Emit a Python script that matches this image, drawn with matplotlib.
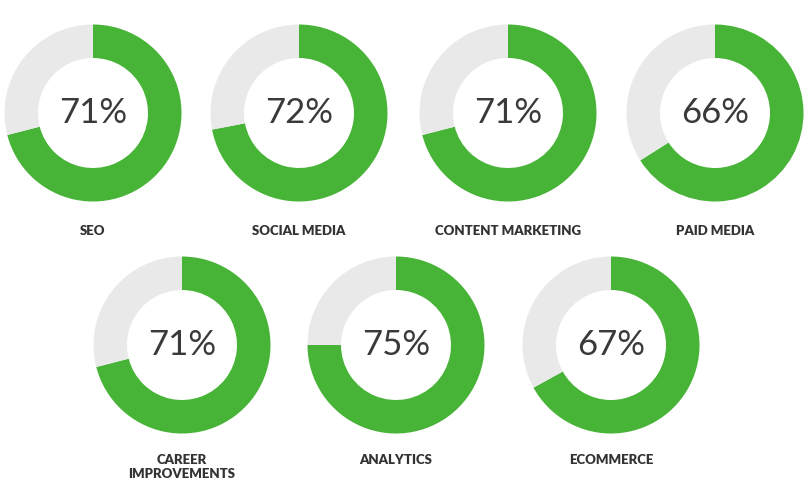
import matplotlib
matplotlib.use("Agg")
import matplotlib.pyplot as plt

# Share of respondents per skill area
labels = ["SEO", "SOCIAL MEDIA", "CONTENT MARKETING", "PAID MEDIA",
          "CAREER\nIMPROVEMENTS", "ANALYTICS", "ECOMMERCE"]
values = [71, 72, 71, 66, 71, 75, 67]

# donut centres in pixel space (x, y from top)
centers = [(93, 113), (299, 113), (508, 113), (715, 113),
           (182, 345), (396, 345), (611, 345)]
label_y = [232, 232, 232, 232, 461, 461, 461]

GREEN = "#47b337"
GREY = "#e9e9e9"
TEXT = "#333333"
H = 495
R = 88.5
WIDTH = 33.5

fig = plt.figure(figsize=(8.1, 4.95), dpi=100)
ax = fig.add_axes([0, 0, 1, 1])

for lab, val, (cx, cy), ly in zip(labels, values, centers, label_y):
    ax.pie([val, 100 - val], colors=[GREEN, GREY], startangle=90,
           counterclock=False, radius=R, center=(cx, H - cy),
           wedgeprops=dict(width=WIDTH, linewidth=0))
    ax.text(cx, H - cy, f"{val}%", ha="center", va="center",
            fontsize=25, fontweight="normal", family=["Lato", "DejaVu Sans"],
            color="#3a3a3a")
    ax.text(cx, H - (ly - 7), lab, ha="center", va="top", fontsize=9.5,
            fontweight="heavy", family=["Lato", "DejaVu Sans"], color=TEXT,
            linespacing=1.25)

ax.set_xlim(0, 810)
ax.set_ylim(0, H)
ax.set_aspect("equal")
ax.axis("off")

fig.savefig("out.png", dpi=100, facecolor="white")
